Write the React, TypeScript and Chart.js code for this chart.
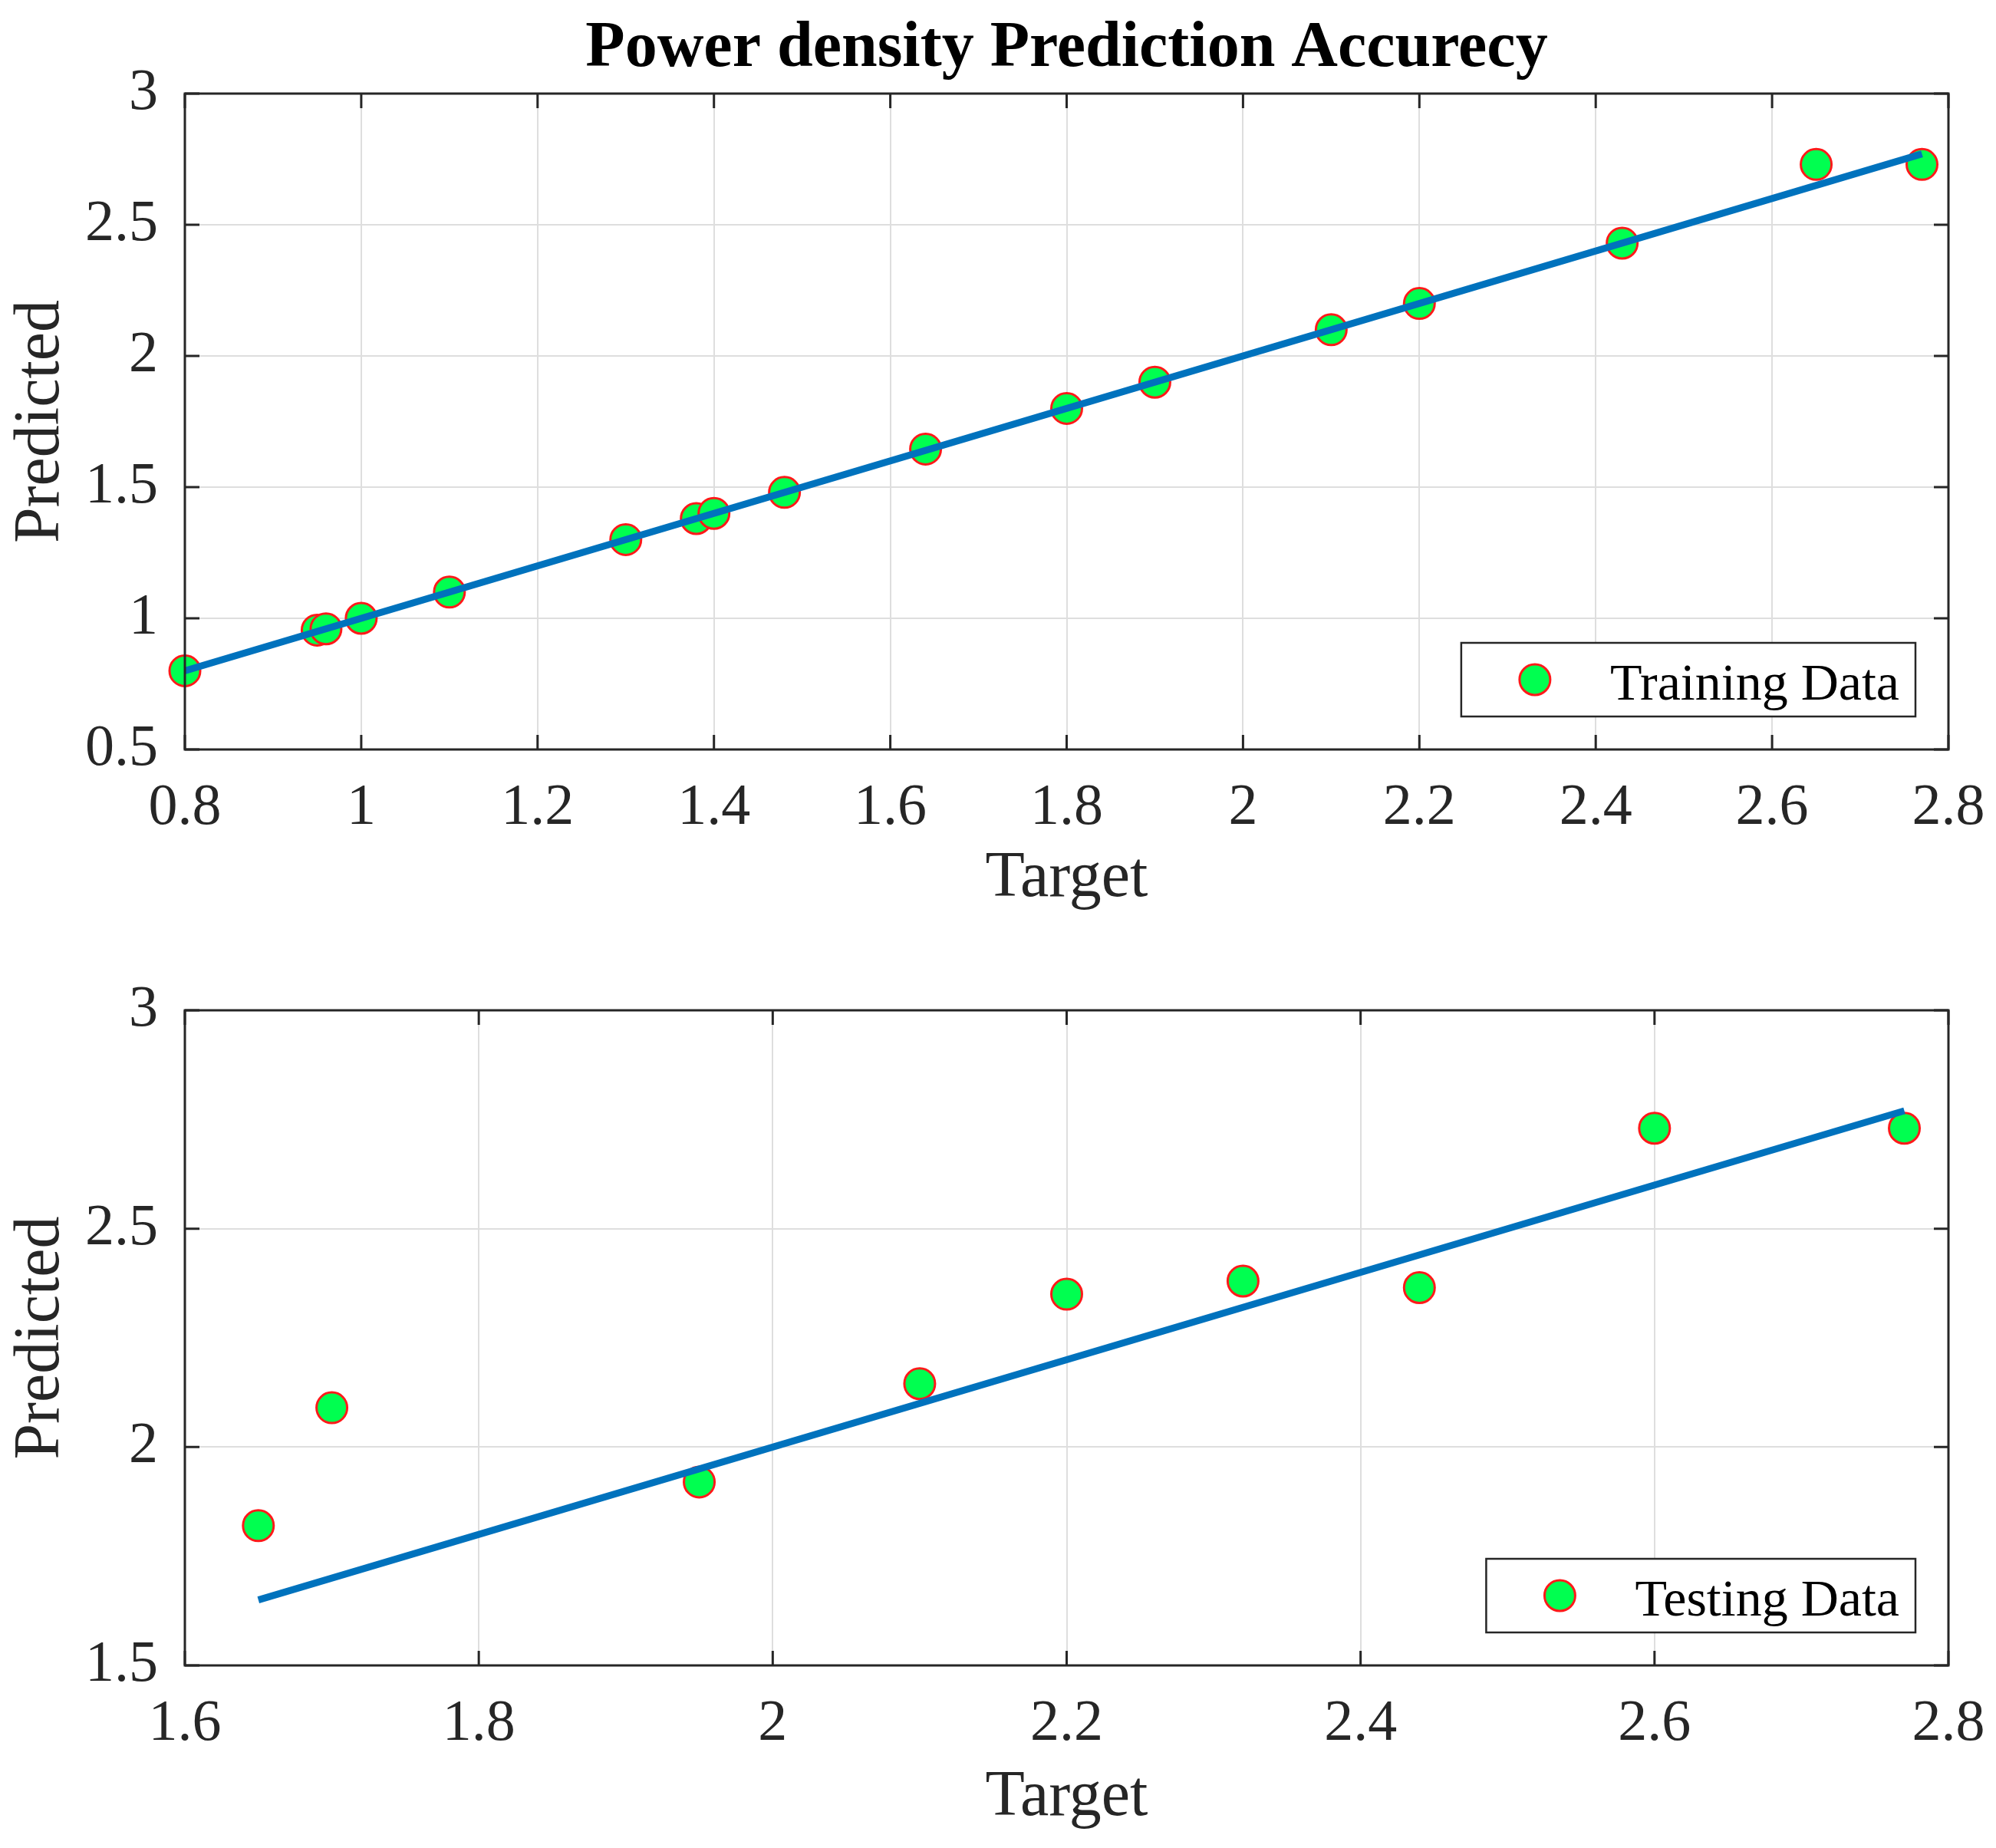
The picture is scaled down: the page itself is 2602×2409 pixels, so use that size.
import React, { useEffect, useRef } from 'react';
import { Chart, registerables } from 'chart.js';

Chart.register(...registerables);

// ---------- data ----------
const chartTitle = 'Power density Prediction Accurecy';
const xAxisTitle = 'Target';
const yAxisTitle = 'Predicted';
const trainLabel = 'Training Data';
const testLabel = 'Testing Data';

const trainTarget = [0.8, 0.95, 0.96, 1.0, 1.1, 1.3, 1.38, 1.4, 1.48, 1.64, 1.8, 1.9, 2.1, 2.2, 2.43, 2.65, 2.77];
const trainPredicted = [0.8, 0.955, 0.96, 1.0, 1.1, 1.3, 1.38, 1.4, 1.48, 1.645, 1.8, 1.9, 2.1, 2.2, 2.43, 2.73, 2.73];
const trainFitX = [0.8, 2.77];
const trainFitY = [0.8, 2.77];

const testTarget = [1.65, 1.7, 1.95, 2.1, 2.2, 2.32, 2.44, 2.6, 2.77];
const testPredicted = [1.82, 2.09, 1.92, 2.145, 2.35, 2.38, 2.365, 2.73, 2.73];
const testFitX = [1.65, 2.77];
const testFitY = [1.65, 2.77];

const trainXTicks = [0.8, 1, 1.2, 1.4, 1.6, 1.8, 2, 2.2, 2.4, 2.6, 2.8];
const trainYTicks = [0.5, 1, 1.5, 2, 2.5, 3];
const testXTicks = [1.6, 1.8, 2, 2.2, 2.4, 2.6, 2.8];
const testYTicks = [1.5, 2, 2.5, 3];

// ---------- style ----------
const FONT = '"Liberation Serif", "Times New Roman", serif';
const AXIS_COLOR = '#262626';
const GRID_COLOR = '#dedede';
const LINE_COLOR = '#0072BD';
const MARKER_FILL = '#00ff50';
const MARKER_EDGE = '#ff1a1a';

const framePlugin = {
  id: 'matlabFrame',
  afterDatasetsDraw(chart: any) {
    const { ctx, chartArea: a, scales } = chart;
    const xs = scales.x;
    const ys = scales.y;
    const tl = 19;
    ctx.save();
    ctx.strokeStyle = AXIS_COLOR;
    ctx.lineWidth = 3;
    ctx.beginPath();
    xs.ticks.forEach((t: any) => {
      const px = xs.getPixelForValue(t.value);
      ctx.moveTo(px, a.bottom);
      ctx.lineTo(px, a.bottom - tl);
      ctx.moveTo(px, a.top);
      ctx.lineTo(px, a.top + tl);
    });
    ys.ticks.forEach((t: any) => {
      const py = ys.getPixelForValue(t.value);
      ctx.moveTo(a.left, py);
      ctx.lineTo(a.left + tl, py);
      ctx.moveTo(a.right, py);
      ctx.lineTo(a.right - tl, py);
    });
    ctx.stroke();
    ctx.strokeRect(a.left, a.top, a.right - a.left, a.bottom - a.top);
    ctx.restore();
  },
};

const titlePlugin = {
  id: 'figTitle',
  afterDraw(chart: any) {
    const opts = chart.options.plugins.figTitle;
    if (!opts || !opts.text) return;
    const { ctx, chartArea: a } = chart;
    ctx.save();
    ctx.fillStyle = '#000000';
    ctx.font = `bold 84px ${FONT}`;
    ctx.textAlign = 'center';
    ctx.textBaseline = 'alphabetic';
    ctx.fillText(opts.text, (a.left + a.right) / 2, opts.baseline);
    ctx.restore();
  },
};

const boxLegendPlugin = {
  id: 'boxLegend',
  afterDraw(chart: any) {
    const { ctx, chartArea: a } = chart;
    const ds = chart.data.datasets.find((d: any) => d.showInLegend);
    if (!ds) return;
    ctx.save();
    ctx.font = `68px ${FONT}`;
    const tw = ctx.measureText(ds.label).width;
    const h = 96;
    const w = 195 + tw + 20;
    const right = a.right - 43;
    const bottom = a.bottom - 43;
    const left = right - w;
    const top = bottom - h;
    ctx.fillStyle = '#ffffff';
    ctx.fillRect(left, top, w, h);
    ctx.strokeStyle = AXIS_COLOR;
    ctx.lineWidth = 2.5;
    ctx.strokeRect(left, top, w, h);
    const cy = top + h / 2;
    ctx.beginPath();
    ctx.arc(left + 96, cy, ds.pointRadius, 0, Math.PI * 2);
    ctx.fillStyle = ds.backgroundColor;
    ctx.fill();
    ctx.lineWidth = ds.borderWidth;
    ctx.strokeStyle = ds.borderColor;
    ctx.stroke();
    ctx.fillStyle = '#000000';
    ctx.textAlign = 'left';
    ctx.textBaseline = 'alphabetic';
    ctx.fillText(ds.label, left + 194, cy + 26);
    ctx.restore();
  },
};

type PanelProps = {
  top: number;
  height: number;
  areaTop: number;
  padBottom: number;
  xTitlePad: number;
  xMin: number;
  xMax: number;
  yMin: number;
  yMax: number;
  xTicks: number[];
  yTicks: number[];
  px: number[];
  py: number[];
  fx: number[];
  fy: number[];
  label: string;
  title?: string;
};

function Panel(p: PanelProps) {
  const ref = useRef<HTMLCanvasElement>(null);
  useEffect(() => {
    const tickFont = { family: FONT, size: 76 };
    const titleFont = { family: FONT, size: 84 };
    const chart = new Chart(ref.current as HTMLCanvasElement, {
      type: 'scatter',
      data: {
        datasets: [
          {
            type: 'line',
            label: 'fit',
            data: p.fx.map((x, i) => ({ x, y: p.fy[i] })),
            borderColor: LINE_COLOR,
            borderWidth: 9,
            pointRadius: 0,
            showLine: true,
            fill: false,
            order: 0,
          } as any,
          {
            type: 'scatter',
            label: p.label,
            data: p.px.map((x, i) => ({ x, y: p.py[i] })),
            backgroundColor: MARKER_FILL,
            borderColor: MARKER_EDGE,
            borderWidth: 3,
            pointRadius: 20,
            pointHoverRadius: 20,
            clip: false,
            order: 1,
            showInLegend: true,
          } as any,
        ],
      },
      options: {
        animation: false,
        responsive: false,
        devicePixelRatio: 1,
        events: [],
        layout: { padding: { top: p.areaTop, right: 62, bottom: p.padBottom, left: 0 } },
        plugins: {
          legend: { display: false },
          tooltip: { enabled: false },
          title: { display: false },
          figTitle: { text: p.title, baseline: 86 },
        } as any,
        scales: {
          x: {
            type: 'linear',
            min: p.xMin,
            max: p.xMax,
            afterBuildTicks: (ax: any) => {
              ax.ticks = p.xTicks.map((v) => ({ value: v }));
            },
            afterFit: (ax: any) => {
              ax.height = 223;
              ax.paddingLeft = 0;
              ax.paddingRight = 0;
            },
            grid: { color: GRID_COLOR, lineWidth: 2, drawTicks: false },
            border: { display: false },
            ticks: {
              color: AXIS_COLOR,
              font: tickFont,
              padding: 31,
              maxRotation: 0,
              autoSkip: false,
              callback: (v: any) => String(Math.round(Number(v) * 10) / 10),
            },
            title: {
              display: true,
              text: xAxisTitle,
              color: AXIS_COLOR,
              font: titleFont,
              padding: { top: 0, bottom: p.xTitlePad },
            },
          },
          y: {
            type: 'linear',
            min: p.yMin,
            max: p.yMax,
            afterBuildTicks: (ax: any) => {
              ax.ticks = p.yTicks.map((v) => ({ value: v }));
            },
            afterFit: (ax: any) => {
              ax.width = 241;
              ax.paddingTop = 0;
              ax.paddingBottom = 0;
            },
            grid: { color: GRID_COLOR, lineWidth: 2, drawTicks: false },
            border: { display: false },
            ticks: {
              color: AXIS_COLOR,
              font: tickFont,
              padding: 35,
              autoSkip: false,
              callback: (v: any) => String(Math.round(Number(v) * 10) / 10),
            },
            title: {
              display: true,
              text: yAxisTitle,
              color: AXIS_COLOR,
              font: titleFont,
              padding: { top: 4, bottom: 0 },
            },
          },
        },
      },
      plugins: [framePlugin, titlePlugin, boxLegendPlugin],
    });
    return () => chart.destroy();
  }, []);
  return (
    <canvas
      ref={ref}
      width={2602}
      height={p.height}
      style={{ position: 'absolute', left: 0, top: p.top, width: 2602, height: p.height, display: 'block' }}
    />
  );
}

export default function App() {
  return (
    <div style={{ position: 'absolute', left: 0, top: 0, width: 2602, height: 2409, background: '#ffffff', overflow: 'hidden' }}>
      <Panel
        top={0}
        height={1200}
        areaTop={122}
        padBottom={0}
        xTitlePad={4}
        xMin={0.8}
        xMax={2.8}
        yMin={0.5}
        yMax={3}
        xTicks={trainXTicks}
        yTicks={trainYTicks}
        px={trainTarget}
        py={trainPredicted}
        fx={trainFitX}
        fy={trainFitY}
        label={trainLabel}
        title={chartTitle}
      />
      <Panel
        top={1200}
        height={1209}
        areaTop={117}
        padBottom={15}
        xTitlePad={0}
        xMin={1.6}
        xMax={2.8}
        yMin={1.5}
        yMax={3}
        xTicks={testXTicks}
        yTicks={testYTicks}
        px={testTarget}
        py={testPredicted}
        fx={testFitX}
        fy={testFitY}
        label={testLabel}
      />
    </div>
  );
}
